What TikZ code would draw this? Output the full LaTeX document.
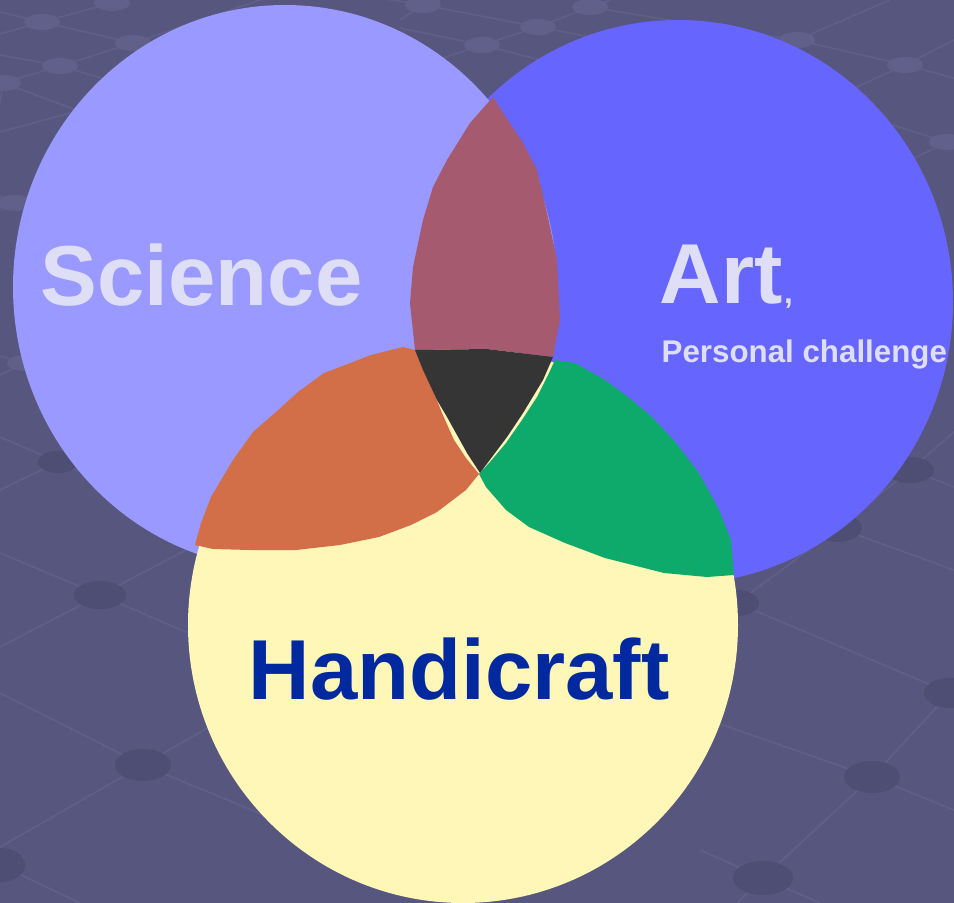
\documentclass[tikz,border=0pt]{standalone}
\usepackage{fontspec}
\setmainfont{Liberation Sans}
\definecolor{bgcol}{HTML}{56567F}
\definecolor{gridline}{HTML}{5F5F89}
\definecolor{knotlight}{HTML}{60608B}
\definecolor{knotdark}{HTML}{4E4E74}
\definecolor{sciencecol}{HTML}{9999FF}
\definecolor{artcol}{HTML}{6666FF}
\definecolor{craftcol}{HTML}{FFF7B7}
\definecolor{sciartcol}{HTML}{A65A70}
\definecolor{scicraftcol}{HTML}{D26F48}
\definecolor{artcraftcol}{HTML}{0EAA6B}
\definecolor{allcol}{HTML}{353535}
\definecolor{palewords}{HTML}{DEDEF7}
\definecolor{craftwords}{HTML}{0029A0}
\begin{document}
\begin{tikzpicture}[x=0.01cm,y=-0.01cm,
  lattice/.style={draw=gridline,line width=0.45pt},
  bigword/.style={font=\bfseries\fontsize{24.2}{29}\selectfont,inner sep=0pt,anchor=base west},
  smallword/.style={font=\bfseries\fontsize{8.9}{10.5}\selectfont,inner sep=0pt,anchor=base west}]
\useasboundingbox (0,0) rectangle (954,903);
\clip (0,0) rectangle (954,903);
\fill[bgcol] (0,0) rectangle (954,903);
% background net
\draw[lattice] (0,12) -- (42,22) -- (133,43) -- (240,68);
\draw[lattice] (0,55) -- (60,66) -- (160,95);
\draw[lattice] (0,76) -- (3,83) -- (90,115);
\draw[lattice] (0,34) -- (42,22) -- (112,3) -- (125,0);
\draw[lattice] (0,103) -- (3,83) -- (60,66) -- (133,43) -- (260,0);
\draw[lattice] (0,132) -- (70,113);
\draw[lattice] (0,196) -- (15,203) -- (120,245);
\draw[lattice] (0,210) -- (15,203) -- (80,175);
\draw[lattice] (0,356) -- (25,363) -- (120,400);
\draw[lattice] (0,375) -- (25,363) -- (100,325);
\draw[lattice] (0,437) -- (58,462) -- (160,505);
\draw[lattice] (0,490) -- (58,462) -- (130,425);
\draw[lattice] (0,553) -- (100,595) -- (200,638);
\draw[lattice] (0,647) -- (100,595) -- (190,548);
\draw[lattice] (0,693) -- (143,765) -- (300,830) -- (420,880);
\draw[lattice] (0,847) -- (143,765) -- (230,715);
\draw[lattice] (0,865) -- (80,903);
\draw[lattice] (330,-10) -- (423,5) -- (538,27) -- (700,58);
\draw[lattice] (400,28) -- (482,45) -- (560,65);
\draw[lattice] (590,7) -- (700,25) -- (797,40) -- (905,65) -- (954,78);
\draw[lattice] (443,58) -- (482,45) -- (538,27) -- (590,7) -- (610,0);
\draw[lattice] (400,20) -- (423,5) -- (440,0);
\draw[lattice] (797,40) -- (890,0);
\draw[lattice] (850,90) -- (905,65) -- (954,40);
\draw[lattice] (860,115) -- (947,142) -- (954,144);
\draw[lattice] (880,175) -- (947,142) -- (954,138);
\draw[lattice] (737,603) -- (950,693);
\draw[lattice] (700,640) -- (737,603) -- (838,528) -- (910,470) -- (954,432);
\draw[lattice] (838,528) -- (954,570);
\draw[lattice] (910,470) -- (954,487);
\draw[lattice] (700,717) -- (872,777) -- (954,810);
\draw[lattice] (720,920) -- (763,878) -- (872,777) -- (950,693) -- (954,688);
\draw[lattice] (700,850) -- (763,878) -- (820,903);
\foreach \x/\y in {112/3,42/22,133/43,60/66,3/83,423/5,538/27,482/45,590/7,797/40,905/65,947/142,15/203,25/363}
  \fill[knotlight] (\x,\y) ellipse [x radius=18, y radius=8];
\foreach \x/\y/\a/\b in {58/462/20/11,100/595/26/14,143/765/28/16,0/865/25/17,737/603/22/13,838/528/24/14,910/470/24/13,950/693/26/15,872/777/28/16,763/878/30/17}
  \fill[knotdark] (\x,\y) ellipse [x radius=\a, y radius=\b];
% the three sets
\fill[artcol] (678,302) ellipse [x radius=275, y radius=282];
\fill[sciencecol] (285,287) ellipse [x radius=272, y radius=282];
\fill[craftcol] (463,625) ellipse [x radius=275, y radius=278];
% overlaps
\fill[sciartcol] (493,97) -- (503,113) -- (523,143) -- (537,170) -- (547,213) -- (557,260) -- (560,320) -- (553,357) -- (487,349) -- (415,350) -- (410,303) -- (413,267) -- (423,220) -- (433,187) -- (447,160) -- (470,123) -- cycle;
\fill[scicraftcol] (403,347) -- (415,350) -- (423,363) -- (431,385) -- (442,413) -- (454,440) -- (466,458) -- (479,474) -- (466,490) -- (437,512) -- (411,525) -- (379,537) -- (340,545) -- (296,550) -- (249,550) -- (213,549) -- (195,545) -- (201,523) -- (211,497) -- (233,460) -- (253,432) -- (276,412) -- (298,392) -- (324,373) -- (340,367) -- (371,355) -- cycle;
\fill[artcraftcol] (555,360) -- (575,363) -- (605,380) -- (628,397) -- (652,417) -- (676,443) -- (699,473) -- (719,510) -- (731,540) -- (734,575) -- (707,577) -- (664,573) -- (605,558) -- (565,543) -- (529,527) -- (506,510) -- (486,487) -- (479,474) -- (490,462) -- (506,443) -- (522,420) -- (537,397) -- (549,373) -- cycle;
\fill[allcol] (415,350) -- (487,349) -- (553,357) -- (543,380) -- (523,413) -- (507,437) -- (480,473) -- (467,453) -- (447,417) -- (437,400) -- (423,370) -- cycle;
% words
\node[bigword,text=palewords] (science) at (40,305) {Science};
\node[bigword,text=palewords] (art) at (659,303) {Art};
\node[smallword,text=palewords] (comma) at (art.base east) {,};
\node[smallword,text=palewords] (challenge) at (661,362) {Personal challenge};
\node[bigword,text=craftwords] (handicraft) at (248,699) {Handicraft};
\end{tikzpicture}
\end{document}
